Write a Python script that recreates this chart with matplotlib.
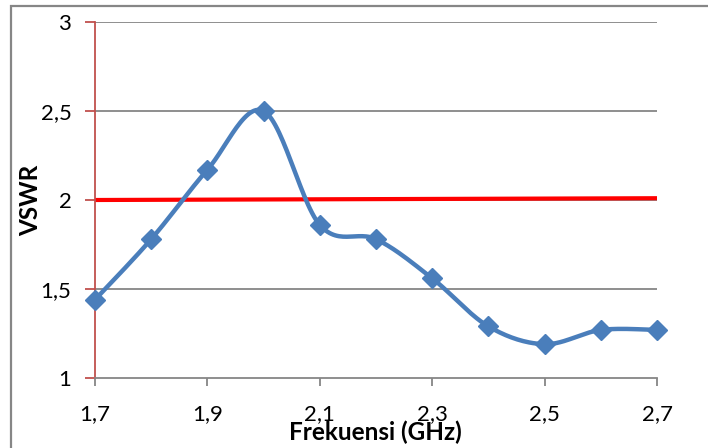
"""VSWR terhadap frekuensi, gaya grafik Excel."""

import matplotlib
import numpy as np

matplotlib.use("Agg")
from matplotlib import pyplot as plt  # noqa: E402
from matplotlib.patches import Rectangle  # noqa: E402

freq = [1.7, 1.8, 1.9, 2.0, 2.1, 2.2, 2.3, 2.4, 2.5, 2.6, 2.7]
vswr = [1.44, 1.78, 2.17, 2.50, 1.86, 1.78, 1.56, 1.29, 1.19, 1.27, 1.27]
limit_freq = [1.7, 2.7]
limit_vswr = [2.0, 2.01]
x_ticks = [1.7, 1.9, 2.1, 2.3, 2.5, 2.7]
x_labels = ["1,7", "1,9", "2,1", "2,3", "2,5", "2,7"]
y_ticks = [1, 1.5, 2, 2.5, 3]
y_labels = ["1", "1,5", "2", "2,5", "3"]

BLUE = "#4A7EBB"
GRAY = "#868686"
AXIS_RED = "#C0504D"

plt.rcParams["font.family"] = ["Lato", "DejaVu Sans"]


def smooth(xs, ys, steps=30):
    """Catmull-Rom curve through the points, like Excel's smoothed line."""
    pts = np.column_stack([xs, ys])
    padded = np.vstack([pts[0], pts, pts[-1]])
    out = []
    t = np.linspace(0, 1, steps)[:, None]
    for i in range(1, len(padded) - 2):
        p0, p1, p2, p3 = padded[i - 1], padded[i], padded[i + 1], padded[i + 2]
        c1 = p1 + (p2 - p0) / 6
        c2 = p2 - (p3 - p1) / 6
        seg = ((1 - t) ** 3) * p1 + 3 * ((1 - t) ** 2) * t * c1 \
            + 3 * (1 - t) * t ** 2 * c2 + t ** 3 * p2
        out.append(seg if i == 1 else seg[1:])
    curve = np.vstack(out)
    return curve[:, 0], curve[:, 1]


fig = plt.figure(figsize=(7.08, 4.48), dpi=100)
fig.patches.append(Rectangle((11 / 708, -0.1), 1.2, 1 - 6 / 448 + 0.1,
                             transform=fig.transFigure, fill=False,
                             edgecolor=GRAY, linewidth=1.6))
ax = fig.add_axes([95 / 708, 1 - 378 / 448, 562 / 708, 356 / 448])

for y in y_ticks[1:]:
    ax.axhline(y, color=GRAY, linewidth=1.3, zorder=1)

sx, sy = smooth(freq, vswr)
ax.plot(sx, sy, color=BLUE, linewidth=3.2, solid_capstyle="round", zorder=3)
ax.plot(freq, vswr, linestyle="none", marker="D", markersize=10,
        color=BLUE, zorder=4, clip_on=False)
ax.plot(limit_freq, limit_vswr, color="#FF0000", linewidth=3, zorder=2)

ax.set_xlim(1.7, 2.7)
ax.set_ylim(1, 3)
ax.set_xticks(x_ticks, x_labels)
ax.set_yticks(y_ticks, y_labels)
for side in ("top", "right"):
    ax.spines[side].set_visible(False)
ax.spines["left"].set_color(AXIS_RED)
ax.spines["left"].set_linewidth(1.3)
ax.spines["bottom"].set_color(GRAY)
ax.spines["bottom"].set_linewidth(1.3)
ax.tick_params(axis="y", direction="out", length=7, width=1.3,
               color=AXIS_RED, pad=10, labelsize=16)
ax.tick_params(axis="x", direction="out", length=6, width=1.3,
               color=GRAY, pad=13, labelsize=16)
ax.set_facecolor("none")

fig.text(375 / 708, 1 - 432 / 448, "Frekuensi (GHz)", ha="center",
         va="center", fontsize=17.5, fontweight="bold")
fig.text(31 / 708, 1 - 200 / 448, "VSWR", ha="center", va="center",
         rotation=90, fontsize=17.5, fontweight="bold")

fig.savefig("out.png", dpi=100)
